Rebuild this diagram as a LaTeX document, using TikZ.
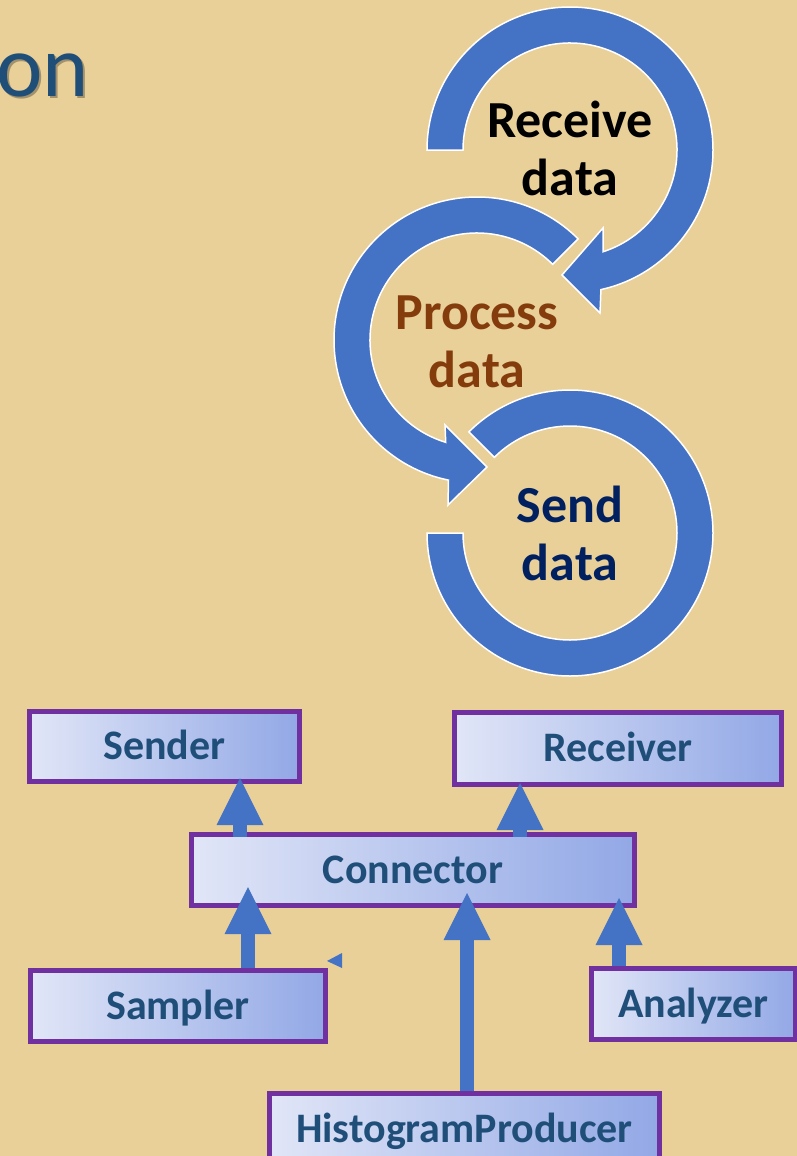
\documentclass[tikz,border=0pt]{standalone}
\usepackage{fontspec}
\setmainfont{Carlito}
\usetikzlibrary{arrows.meta,calc}

\definecolor{paper}{RGB}{233,208,153}
\definecolor{titleblue}{RGB}{31,78,121}
\definecolor{ringblue}{RGB}{68,114,196}
\definecolor{procbrown}{RGB}{132,60,12}
\definecolor{sendnavy}{RGB}{0,32,96}
\definecolor{boxpurple}{RGB}{112,48,160}
\definecolor{boxL}{RGB}{225,230,247}
\definecolor{boxR}{RGB}{146,168,230}
\definecolor{clstext}{RGB}{31,78,121}

\begin{document}
\begin{tikzpicture}[x=1pt,y=1pt,
  ring/.style={fill=ringblue, draw=white, line width=1.5pt, line join=miter},
  ringlabel/.style={font=\fontsize{52}{58}\selectfont\bfseries, align=center, inner sep=0pt},
  cls/.style={draw=boxpurple, line width=5pt, left color=boxL, right color=boxR,
    inner sep=0pt, text=clstext, font=\fontsize{42}{42}\selectfont\bfseries,
    text height=26pt, text depth=0pt},
  uarrow/.style={draw=ringblue, line width=14pt,
    -{Triangle[length=47pt,width=47pt,line width=0pt]}}]

% page and background
\useasboundingbox (0,0) rectangle (797,-1156);
\fill[paper] (0,0) rectangle (797,-1156);

% heading fragment with its soft shadow
\node[anchor=base west, inner sep=0pt, text=black, opacity=0.3,
      font=\fontsize{88}{88}\selectfont] at (-2,-98) {on};
\node[anchor=base west, inner sep=0pt, text=titleblue,
      font=\fontsize{88}{88}\selectfont] (title) at (-4,-96) {on};

% three circular arrows of the processing cycle
\coordinate (c1) at (570,-150);
\coordinate (c2) at (477,-340);
\coordinate (c3) at (570,-533);

\filldraw[ring] ($(c1)+(180:143)$) arc[start angle=180,end angle=-77.5,radius=143]
  -- (600,-313) -- (562,-275) -- (603,-228)
  -- ($(c1)+(-72:107)$) arc[start angle=-72,end angle=180,radius=107] -- cycle;

\filldraw[ring] ($(c2)+(45:143)$) arc[start angle=45,end angle=258.5,radius=143]
  -- (448,-505) -- (487,-467) -- (445,-425)
  -- ($(c2)+(253:107)$) arc[start angle=253,end angle=45,radius=107] -- cycle;

\filldraw[ring] ($(c3)+(135:143)$) arc[start angle=135,end angle=-180,radius=143]
  -- ($(c3)+(180:107)$) arc[start angle=180,end angle=495,radius=107] -- cycle;

\node[ringlabel, text=black] (recv) at (570,-148) {Receive\\data};
\node[ringlabel, text=procbrown] (proc) at (477,-342) {Process\\data};
\node[ringlabel, text=sendnavy] (send) at (570,-533) {Send\\data};

% class boxes
\node[cls, minimum width=270pt, minimum height=70pt] (sender) at (164.5,-746.5) {Sender};
\node[cls, minimum width=327pt, minimum height=72pt] (receiver) at (618,-748.5) {Receiver};
\node[cls, minimum width=443pt, minimum height=71pt] (conn) at (413,-870) {Connector};
\node[cls, minimum width=295pt, minimum height=71pt] (sampler) at (178,-1006) {Sampler};
\node[cls, minimum width=204pt, minimum height=71pt] (analyzer) at (693.5,-1004) {Analyzer};
\node[cls, minimum width=390pt, minimum height=71pt] (histo) at (464.5,-1129) {HistogramProducer};

% inheritance arrows
\draw[uarrow] ([xshift=-173pt,yshift=-5pt]conn.north) -- ([xshift=75.5pt,yshift=6pt]sender.south);
\draw[uarrow] ([xshift=107pt,yshift=-5pt]conn.north) -- ([xshift=-98pt,yshift=4pt]receiver.south);
\draw[uarrow] ([xshift=70pt]sampler.north) -- ([xshift=-165pt,yshift=21pt]conn.south);
\draw[uarrow] ([xshift=2.5pt]histo.north) -- ([xshift=54pt,yshift=15pt]conn.south);
\draw[uarrow] ([xshift=-74.5pt]analyzer.north) -- ([xshift=206pt,yshift=10pt]conn.south);

% small stray marker beside the connector
\fill[ringblue] (327,-961) -- (342,-953) -- (342,-968) -- cycle;

\end{tikzpicture}
\end{document}
